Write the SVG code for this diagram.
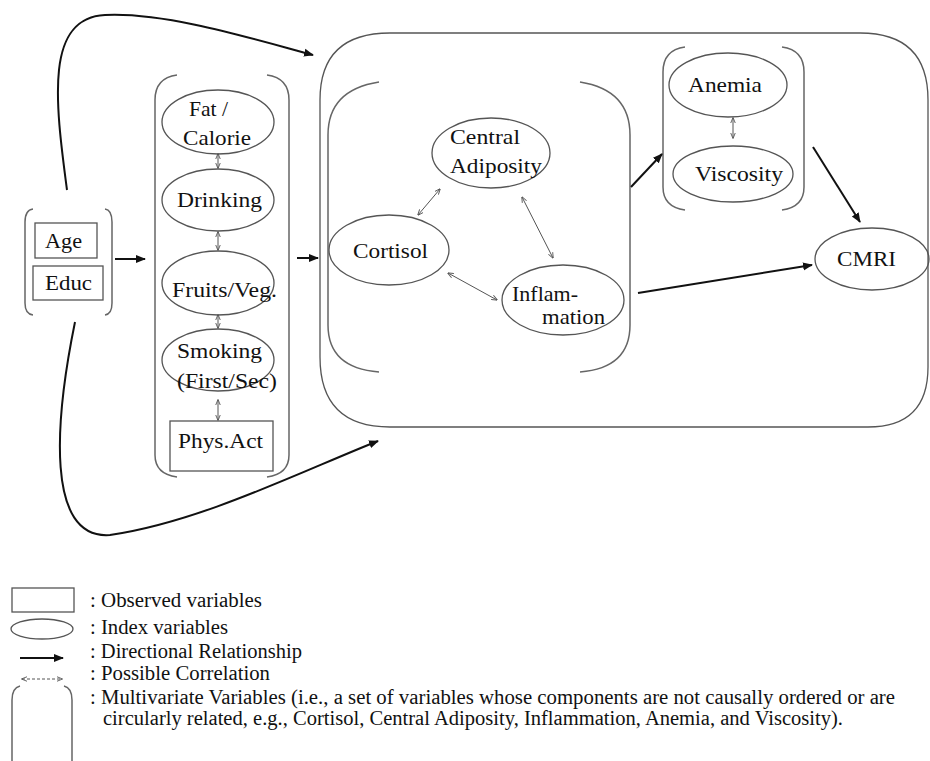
<svg xmlns="http://www.w3.org/2000/svg" width="930" height="761" viewBox="0 0 930 761">
<style>
.t{font-family:"Liberation Serif","DejaVu Serif","Noto Serif","Times New Roman",serif;font-size:22px;fill:#111}
.lg{font-family:"Liberation Serif","DejaVu Serif","Noto Serif","Times New Roman",serif;font-size:20px;fill:#111}
.sh{fill:none;stroke:#555;stroke-width:1.3}
.br{fill:none;stroke:#666;stroke-width:1.5}
.ar{fill:none;stroke:#111;stroke-width:2;marker-end:url(#ah)}
.cr{fill:none;stroke:#555;stroke-width:1;marker-start:url(#sh);marker-end:url(#sh)}
</style>
<defs>
<marker id="ah" viewBox="0 0 10 10" refX="9" refY="5" markerWidth="5" markerHeight="5" orient="auto" markerUnits="strokeWidth"><path d="M0,1 L10,5 L0,9 z" fill="#111"/></marker>
<marker id="sh" viewBox="0 0 10 10" refX="9" refY="5" markerWidth="6" markerHeight="6" orient="auto-start-reverse" markerUnits="strokeWidth"><path d="M0,1 L10,5 L0,9" fill="none" stroke="#555" stroke-width="1.5"/></marker>
</defs>
<rect width="930" height="761" fill="#fff"/>

<!-- containers -->
<g id="outer-box"><path class="sh" d="M390,33 H860 Q928,33 928,100 V367 Q928,427 868,427 H390 Q320,427 320,357 V100 Q320,33 390,33 Z"/></g>
<g id="group-age-educ">
<path class="br" d="M33,209 Q25,210 25,222 V303 Q25,314 33,315"/>
<path class="br" d="M105,209 Q112,210 112,222 V303 Q112,314 105,315"/>
</g>
<g id="group-lifestyle">
<path class="br" d="M177,75 Q155,78 155,100 V455 Q155,474 177,477"/>
<path class="br" d="M267,75 Q289,78 289,100 V455 Q289,474 267,477"/>
</g>
<g id="group-stress">
<path class="br" d="M379,82 Q328,90 328,135 V325 Q328,368 379,372"/>
<path class="br" d="M580,82 Q630,90 630,135 V325 Q630,368 580,372"/>
</g>
<g id="group-blood">
<path class="br" d="M685,47 Q663,50 663,72 V187 Q663,207 685,210"/>
<path class="br" d="M782,47 Q804,50 804,72 V187 Q804,207 782,210"/>
</g>

<!-- nodes -->
<g id="age"><rect class="sh" x="35" y="223" width="62" height="35"/><text class="t" x="45" y="248" textLength="37" lengthAdjust="spacingAndGlyphs">Age</text></g>
<g id="educ"><rect class="sh" x="33" y="266" width="70" height="34"/><text class="t" x="45" y="290" textLength="47" lengthAdjust="spacingAndGlyphs">Educ</text></g>
<g id="fat"><ellipse class="sh" cx="218" cy="122" rx="56" ry="32"/><text class="t" x="189" y="116" textLength="39" lengthAdjust="spacingAndGlyphs">Fat /</text><text class="t" x="183" y="145" textLength="68" lengthAdjust="spacingAndGlyphs">Calorie</text></g>
<g id="drinking"><ellipse class="sh" cx="218" cy="200" rx="56" ry="31"/><text class="t" x="177" y="207" textLength="85" lengthAdjust="spacingAndGlyphs">Drinking</text></g>
<g id="fruits"><ellipse class="sh" cx="218" cy="283" rx="56" ry="32"/><text class="t" x="172" y="297" textLength="105" lengthAdjust="spacingAndGlyphs">Fruits/Veg.</text></g>
<g id="smoking"><ellipse class="sh" cx="218" cy="360" rx="56" ry="31"/><text class="t" x="177" y="358" textLength="85" lengthAdjust="spacingAndGlyphs">Smoking</text><text class="t" x="177" y="388" textLength="100" lengthAdjust="spacingAndGlyphs">(First/Sec)</text></g>
<g id="physact"><rect class="sh" x="170" y="421" width="103" height="50"/><text class="t" x="178" y="448" textLength="85" lengthAdjust="spacingAndGlyphs">Phys.Act</text></g>
<g id="central"><ellipse class="sh" cx="491" cy="153" rx="59" ry="35"/><text class="t" x="450" y="144" textLength="70" lengthAdjust="spacingAndGlyphs">Central</text><text class="t" x="450" y="173" textLength="92" lengthAdjust="spacingAndGlyphs">Adiposity</text></g>
<g id="cortisol"><ellipse class="sh" cx="389" cy="250" rx="60" ry="35"/><text class="t" x="353" y="258" textLength="75" lengthAdjust="spacingAndGlyphs">Cortisol</text></g>
<g id="inflammation"><ellipse class="sh" cx="563" cy="300" rx="61" ry="35"/><text class="t" x="512" y="301" textLength="66" lengthAdjust="spacingAndGlyphs">Inflam-</text><text class="t" x="542" y="324" textLength="63" lengthAdjust="spacingAndGlyphs">mation</text></g>
<g id="anemia"><ellipse class="sh" cx="728" cy="85" rx="59" ry="32"/><text class="t" x="688" y="92" textLength="74" lengthAdjust="spacingAndGlyphs">Anemia</text></g>
<g id="viscosity"><ellipse class="sh" cx="733" cy="174" rx="60" ry="28"/><text class="t" x="695" y="181" textLength="88" lengthAdjust="spacingAndGlyphs">Viscosity</text></g>
<g id="cmri"><ellipse class="sh" cx="872" cy="259" rx="57" ry="31"/><text class="t" x="837" y="266" textLength="59" lengthAdjust="spacingAndGlyphs">CMRI</text></g>

<!-- connectors -->
<g id="connectors">
<path class="ar" d="M67,190 C55,100 45,18 105,15 C165,12 250,38 313,55"/>
<path class="ar" d="M75,322 C55,420 45,540 110,535 C200,522 300,472 378,441"/>
<path class="ar" d="M115,259 H145"/>
<path class="ar" d="M297,258 H318"/>
<path class="ar" d="M631,187 L662,154"/>
<path class="ar" d="M813,147 L860,222"/>
<path class="ar" d="M638,293 L812,265"/>
<path class="cr" d="M218,154 V168"/>
<path class="cr" d="M218,232 V250"/>
<path class="cr" d="M218,315 V328"/>
<path class="cr" d="M218,400 V420"/>
<path class="cr" d="M733,118 V138"/>
<path class="cr" d="M418,215 L440,189"/>
<path class="cr" d="M522,197 L553,258"/>
<path class="cr" d="M448,273 L497,300"/>
</g>

<!-- legend -->
<g id="legend">
<rect class="sh" x="12" y="588" width="62" height="24"/>
<ellipse class="sh" cx="42" cy="629" rx="31" ry="10"/>
<path class="ar" d="M20,658 H63"/>
<path class="cr" d="M22,679 H62" stroke-dasharray="3,2" stroke="#333"/>
<path class="br" d="M20,686 Q12,688 12,700 V761"/>
<path class="br" d="M64,686 Q72,688 72,700 V761"/>
<text class="lg" x="90" y="607" textLength="172" lengthAdjust="spacingAndGlyphs">: Observed variables</text>
<text class="lg" x="90" y="634" textLength="138" lengthAdjust="spacingAndGlyphs">:  Index variables</text>
<text class="lg" x="90" y="658" textLength="212" lengthAdjust="spacingAndGlyphs">:  Directional Relationship</text>
<text class="lg" x="90" y="680" textLength="180" lengthAdjust="spacingAndGlyphs">:  Possible Correlation</text>
<text class="lg" x="90" y="704" textLength="805" lengthAdjust="spacingAndGlyphs">:  Multivariate Variables (i.e., a set of variables whose components are not causally ordered or are</text>
<text class="lg" x="103" y="725" textLength="740" lengthAdjust="spacingAndGlyphs">circularly  related, e.g., Cortisol, Central Adiposity, Inflammation, Anemia, and Viscosity).</text>
</g>
</svg>
